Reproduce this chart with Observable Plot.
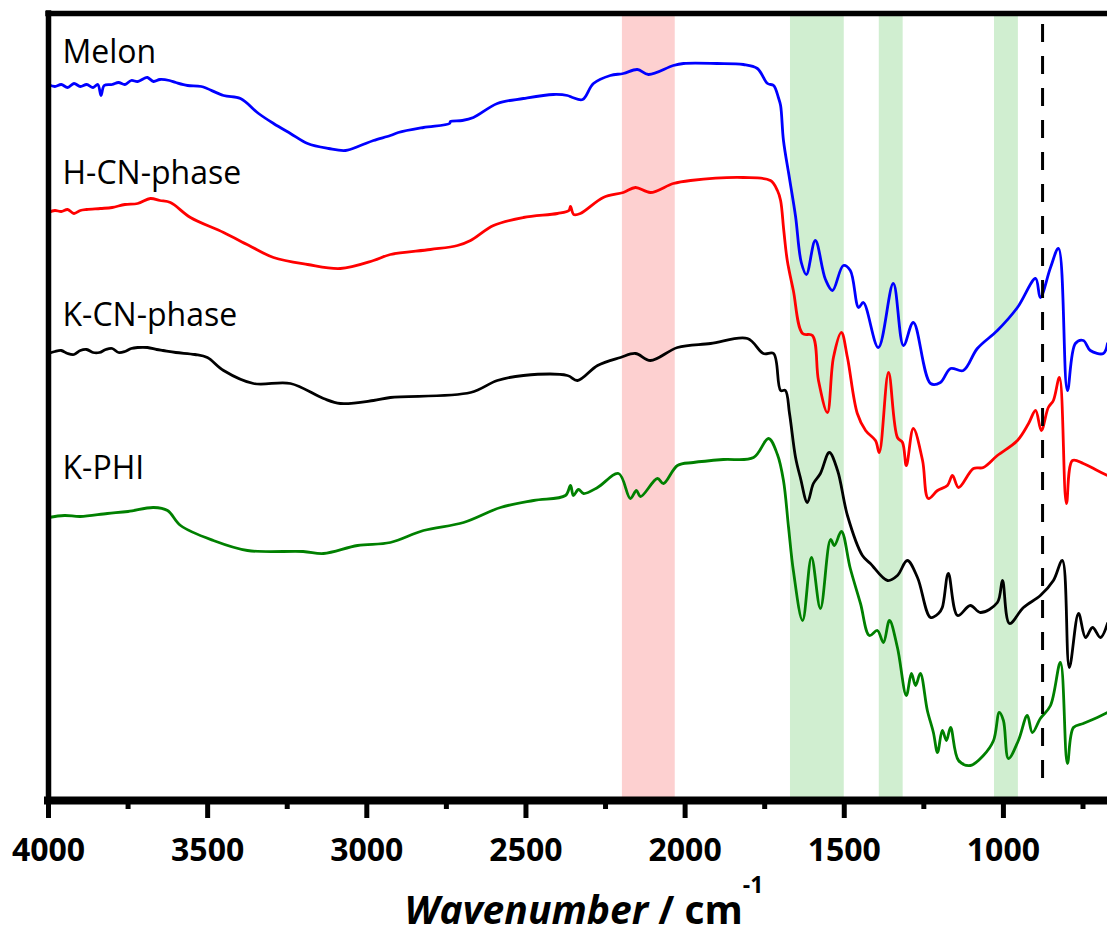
<!DOCTYPE html>
<html><head><meta charset="utf-8">
<script src="https://cdn.jsdelivr.net/npm/d3@7"></script>
<script src="https://cdn.jsdelivr.net/npm/@observablehq/plot@0.6"></script>
<style>body{margin:0;background:#fff;overflow:hidden}</style>
</head><body><div id="chart"></div>
<script>
// ---- data (wavenumber cm^-1, offset transmittance a.u.) ----
const seriesNames = ["Melon", "H-CN-phase", "K-CN-phase", "K-PHI"];
const seriesColors = ["#0000ff", "#ff0000", "#000000", "#008000"];
const melon = [[4000,71.6],[3980,71.4],[3960,71.6],[3940,71.3],[3920,71.7],[3900,71.4],[3880,71.6],[3860,71.3],[3845,71.6],[3835,70.5],[3825,71.5],[3800,71.6],[3780,71.8],[3760,71.6],[3740,72.0],[3720,71.9],[3700,72.2],[3689,72.3],[3670,71.9],[3650,72.1],[3620,72.0],[3600,71.8],[3563,71.5],[3520,71.4],[3450,70.5],[3397,70.2],[3340,68.7],[3293,67.7],[3240,66.7],[3186,65.7],[3120,65.2],[3067,65.0],[3020,65.5],[2979,66.0],[2926,66.5],[2901,66.8],[2822,67.3],[2740,67.7],[2737,67.9],[2700,68.0],[2665,68.3],[2590,69.7],[2508,70.2],[2414,70.6],[2370,70.5],[2354,70.3],[2322,70.1],[2288,71.7],[2235,72.5],[2194,72.7],[2150,73.1],[2115,72.6],[2037,73.5],[2005,73.7],[1900,73.7],[1817,73.6],[1773,73.2],[1741,71.7],[1722,71.5],[1707,70.3],[1700,69.5],[1691,66.0],[1672,62.2],[1653,58.4],[1635,53.8],[1619,52.6],[1591,56.0],[1559,52.1],[1537,51.0],[1503,53.5],[1481,53.0],[1455,49.3],[1440,49.8],[1393,45.3],[1346,51.7],[1314,45.5],[1283,47.8],[1229,41.7],[1198,41.8],[1166,43.2],[1126,43.0],[1082,45.2],[1019,47.0],[956,49.3],[899,52.2],[884,50.3],[852,53.3],[827,55.2],[799,41.0],[774,45.7],[749,46.0],[727,45.0],[686,44.7],[673,45.7]];
const hcn = [[4000,58.8],[3980,59.0],[3960,58.9],[3940,59.1],[3920,58.7],[3900,59.0],[3880,59.1],[3837,59.2],[3800,59.3],[3760,59.6],[3720,59.7],[3680,60.2],[3650,60.0],[3617,59.8],[3554,58.3],[3450,56.8],[3370,55.5],[3293,54.3],[3186,53.6],[3083,53.2],[2979,54.0],[2926,54.6],[2800,55.1],[2715,55.5],[2674,56.0],[2602,57.5],[2508,58.3],[2401,58.7],[2365,59.0],[2360,59.4],[2350,58.6],[2329,58.7],[2257,60.3],[2194,60.8],[2156,61.3],[2109,60.8],[2037,61.7],[1983,62.0],[1817,62.3],[1732,62.0],[1710,61.0],[1700,60.0],[1690,57.0],[1679,54.0],[1660,51.0],[1631,46.7],[1600,46.5],[1581,42.0],[1553,38.8],[1534,44.3],[1509,46.8],[1490,44.3],[1459,38.7],[1433,37.0],[1402,36.0],[1390,34.8],[1361,42.8],[1333,36.3],[1317,35.8],[1305,33.5],[1283,37.2],[1254,34.0],[1236,30.2],[1207,31.0],[1176,31.5],[1160,32.5],[1141,31.3],[1094,33.2],[1063,33.3],[1019,34.5],[956,36.0],[921,37.7],[899,39.0],[881,37.0],[859,39.3],[843,40.0],[824,42.3],[802,29.7],[783,34.0],[749,33.7],[705,33.0],[673,32.5]];
const kcn = [[4000,44.7],[3980,44.9],[3960,45.0],[3940,44.7],[3920,44.6],[3900,45.0],[3880,45.1],[3860,44.8],[3840,44.8],[3820,45.1],[3800,45.2],[3780,44.8],[3760,44.9],[3740,45.2],[3720,45.3],[3689,45.3],[3660,45.1],[3640,45.0],[3600,44.8],[3540,44.6],[3501,44.3],[3450,43.0],[3356,41.7],[3240,41.7],[3136,40.2],[3083,39.7],[2979,40.0],[2926,40.3],[2674,40.8],[2590,42.0],[2508,42.5],[2370,42.5],[2338,42.0],[2275,43.5],[2203,44.3],[2156,44.7],[2109,44.0],[2024,45.3],[1920,45.7],[1804,46.2],[1754,44.7],[1722,44.7],[1700,41.0],[1685,41.0],[1672,38.7],[1653,34.3],[1638,32.3],[1616,29.8],[1597,31.7],[1575,32.7],[1547,34.8],[1521,33.0],[1490,28.5],[1443,24.5],[1418,23.7],[1364,22.0],[1333,22.5],[1302,24.0],[1270,22.3],[1229,18.3],[1204,18.7],[1192,19.3],[1173,22.7],[1144,18.5],[1104,19.5],[1072,18.8],[1019,19.8],[1003,22.0],[981,17.7],[937,19.3],[884,20.5],[843,22.0],[815,24.0],[793,13.3],[764,18.7],[742,16.3],[720,17.3],[695,16.3],[673,17.7]];
const kphi = [[4000,28.3],[3950,28.5],[3900,28.4],[3815,28.7],[3750,28.9],[3670,29.3],[3626,29.0],[3585,27.5],[3482,26.0],[3375,25.0],[3200,24.9],[3136,24.7],[3029,25.5],[2926,25.8],[2822,27.0],[2696,27.8],[2580,29.3],[2476,30.0],[2376,30.5],[2360,31.5],[2351,30.5],[2335,31.1],[2319,30.7],[2275,31.3],[2209,32.7],[2172,30.2],[2153,31.0],[2140,30.4],[2087,32.2],[2068,31.7],[2024,33.5],[1974,33.8],[1880,34.1],[1785,34.3],[1738,36.2],[1710,34.6],[1691,32.0],[1675,27.3],[1660,23.0],[1631,18.0],[1603,24.3],[1575,19.2],[1543,26.1],[1531,25.5],[1509,26.9],[1481,23.2],[1449,19.7],[1421,16.5],[1396,17.0],[1377,15.8],[1358,18.0],[1333,15.3],[1305,10.5],[1289,12.7],[1276,11.5],[1261,12.7],[1239,9.0],[1220,6.8],[1207,4.8],[1192,7.0],[1179,6.0],[1166,7.3],[1141,4.0],[1104,3.5],[1063,4.5],[1031,6.0],[1013,8.8],[1000,8.0],[984,4.2],[953,6.0],[925,8.5],[909,6.8],[884,8.2],[852,9.5],[821,13.8],[799,3.7],[780,7.3],[749,7.7],[705,8.3],[673,8.8]];
const seriesData = [melon, hcn, kcn, kphi];
const labelWavenumber = [3956, 3956, 3956, 3956];
const labelLevel = [73.8, 61.7, 47.5, 32.2];
const redBands = [[2197, 2031]];
const greenBands = [[1669, 1500], [1390, 1315], [1028, 953]];
const dashedAt = [877];
const dashedSpan = [2.2, 78.4];
const majorTicks = [4000, 3500, 3000, 2500, 2000, 1500, 1000];
const minorTicks = [3750, 3250, 2750, 2250, 1750, 1250, 750];
const xDomain = [4000, 673];
const yDomain = [0, 78.7];

const labels = seriesNames.map((s, i) => ({s, x: labelWavenumber[i], y: labelLevel[i]}));

const W = 1107, H = 935;
const plot = Plot.plot({
  width: W, height: H,
  marginLeft: 48, marginRight: 0, marginTop: 13, marginBottom: 135,
  style: {fontFamily: "'Open Sans', sans-serif", background: "#fff", overflow: "visible"},
  x: {domain: xDomain, label: null},
  y: {domain: yDomain, axis: null},
  marks: [
    Plot.rect(redBands, {x1: d => d[0], x2: d => d[1], fill: "#fdd0d0"}),
    Plot.rect(greenBands, {x1: d => d[0], x2: d => d[1], fill: "#d0eed0"}),
    ...seriesData.map((arr, i) => Plot.line(arr, {x: d => d[0], y: d => d[1], stroke: seriesColors[i], strokeWidth: 2.8, curve: "catmull-rom"})),
    Plot.ruleX(dashedAt, {y1: dashedSpan[0], y2: dashedSpan[1], stroke: "#000", strokeWidth: 3, strokeDasharray: "18,14"}),
    Plot.text(labels, {x: "x", y: "y", text: "s", textAnchor: "start", lineAnchor: "bottom", fontSize: 32, fill: "#000"}),
    Plot.ruleX([xDomain[0]], {stroke: "#000", strokeWidth: 5.5, strokeLinecap: "square"}),
    Plot.ruleY([yDomain[1]], {stroke: "#000", strokeWidth: 5.5, strokeLinecap: "square"}),
    Plot.ruleY([yDomain[0]], {stroke: "#000", strokeWidth: 8, strokeLinecap: "square"}),
    Plot.axisX({ticks: majorTicks, anchor: "bottom", tickSize: 18, tickPadding: 20, strokeWidth: 5, fontSize: 32, fontWeight: "bold", fill: "#000", tickFormat: d3.format("d")}),
    Plot.axisX({ticks: minorTicks, anchor: "bottom", tickSize: 9, strokeWidth: 5, tickFormat: () => ""})
  ]
});
document.getElementById("chart").appendChild(plot);

const t = d3.select(plot).append("text")
  .attr("x", 584).attr("y", 924)
  .attr("text-anchor", "middle")
  .attr("font-family", "'Open Sans', sans-serif")
  .attr("font-size", 39).attr("font-weight", "bold").attr("fill", "#000");
t.append("tspan").attr("font-style", "italic").text("Wavenumber");
t.append("tspan").text(" / cm");
t.append("tspan").attr("font-size", 23).attr("dy", -31).text("-1");
</script>
</body></html>
